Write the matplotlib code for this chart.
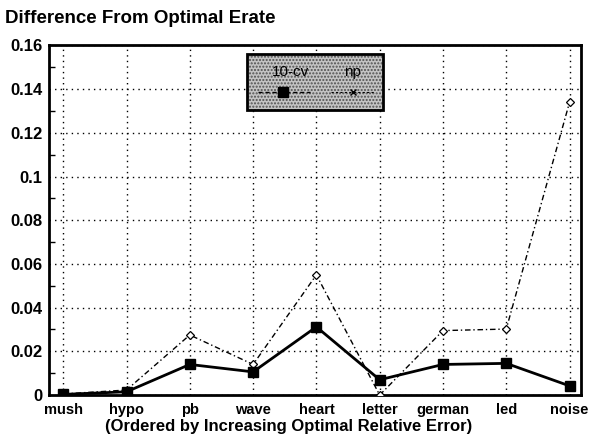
import matplotlib.pyplot as plt
from matplotlib.patches import Rectangle
from matplotlib.lines import Line2D
from matplotlib.ticker import MultipleLocator

plt.rcParams['font.family'] = ['Liberation Sans', 'DejaVu Sans']

# datasets, ordered by increasing optimal relative error
datasets = ["mush", "hypo", "pb", "wave", "heart", "letter", "german", "led", "noise"]
cv10 = [0.0003, 0.0015, 0.014, 0.0106, 0.0312, 0.007, 0.014, 0.0145, 0.0042]
np_vals = [0.0005, 0.0023, 0.0275, 0.014, 0.055, 0.0, 0.0295, 0.0302, 0.134]
yticks = [0, 0.02, 0.04, 0.06, 0.08, 0.1, 0.12, 0.14, 0.16]
ytick_labels = ["0", "0.02", "0.04", "0.06", "0.08", "0.1", "0.12", "0.14", "0.16"]

fig = plt.figure(figsize=(5.94, 4.37), dpi=100)
ax = fig.add_axes([0.083, 0.096, 0.895, 0.80])

x = list(range(len(datasets)))
ax.plot(x, np_vals, color='black', lw=1.0, ls=(0, (4, 2, 1, 2)),
        marker='D', ms=4, mfc='white', mec='black', mew=0.9, zorder=3)
ax.plot(x, cv10, color='black', lw=2.0, marker='s', ms=7,
        mfc='black', mec='black', zorder=4)

ax.set_xlim(-0.22, 8.18)
ax.set_ylim(0, 0.16)
ax.set_xticks(x)
ax.set_xticklabels(datasets, fontsize=10.5, fontweight='bold')
ax.set_yticks(yticks)
ax.set_yticklabels(ytick_labels, fontsize=12, fontweight='bold')
ax.yaxis.set_minor_locator(MultipleLocator(0.01))
ax.tick_params(axis='both', which='both', direction='in')
ax.tick_params(axis='x', length=0, pad=6)
ax.tick_params(axis='y', which='major', length=0, pad=5)
ax.tick_params(axis='y', which='minor', length=4, width=1)
ax.grid(True, which='major', ls=(0, (1, 3)), color='black', lw=1.0)

for side in ax.spines:
    ax.spines[side].set_linewidth(2.0)

ax.set_xlabel("(Ordered by Increasing Optimal Relative Error)",
              fontsize=12, fontweight='bold')
ax.xaxis.set_label_coords(0.45, -0.068)
fig.text(0.008, 0.958, "Difference From Optimal Erate", fontsize=13.5,
         fontweight='bold', ha='left', va='center')

# legend panel with stippled fill, labels above the line samples
lx0, lx1, ly0, ly1 = 0.372, 0.628, 0.815, 0.975
ax.add_patch(Rectangle((lx0, ly0), lx1 - lx0, ly1 - ly0, transform=ax.transAxes,
                       facecolor='#c4c4c4', edgecolor='#505050', hatch='.....',
                       lw=0, zorder=5))
ax.add_patch(Rectangle((lx0, ly0), lx1 - lx0, ly1 - ly0, transform=ax.transAxes,
                       facecolor='none', edgecolor='black', lw=2.0, zorder=6))
ax.text(0.453, 0.925, "10-cv", transform=ax.transAxes, ha='center', va='center',
        fontsize=11, zorder=7)
ax.text(0.571, 0.925, "np", transform=ax.transAxes, ha='center', va='center',
        fontsize=11, zorder=7)
ax.add_line(Line2D([0.392, 0.49], [0.868, 0.868], transform=ax.transAxes,
                   color='black', lw=1.0, ls=(0, (3, 2)), zorder=7))
ax.add_line(Line2D([0.44], [0.868], transform=ax.transAxes, color='black',
                   marker='s', ms=7, zorder=8))
ax.add_line(Line2D([0.53, 0.61], [0.868, 0.868], transform=ax.transAxes,
                   color='black', lw=0.8, ls=(0, (2, 2)), zorder=7))
ax.add_line(Line2D([0.572], [0.868], transform=ax.transAxes, color='black',
                   marker='x', ms=4, mew=1.0, zorder=8))

fig.savefig("out.png", dpi=100)
